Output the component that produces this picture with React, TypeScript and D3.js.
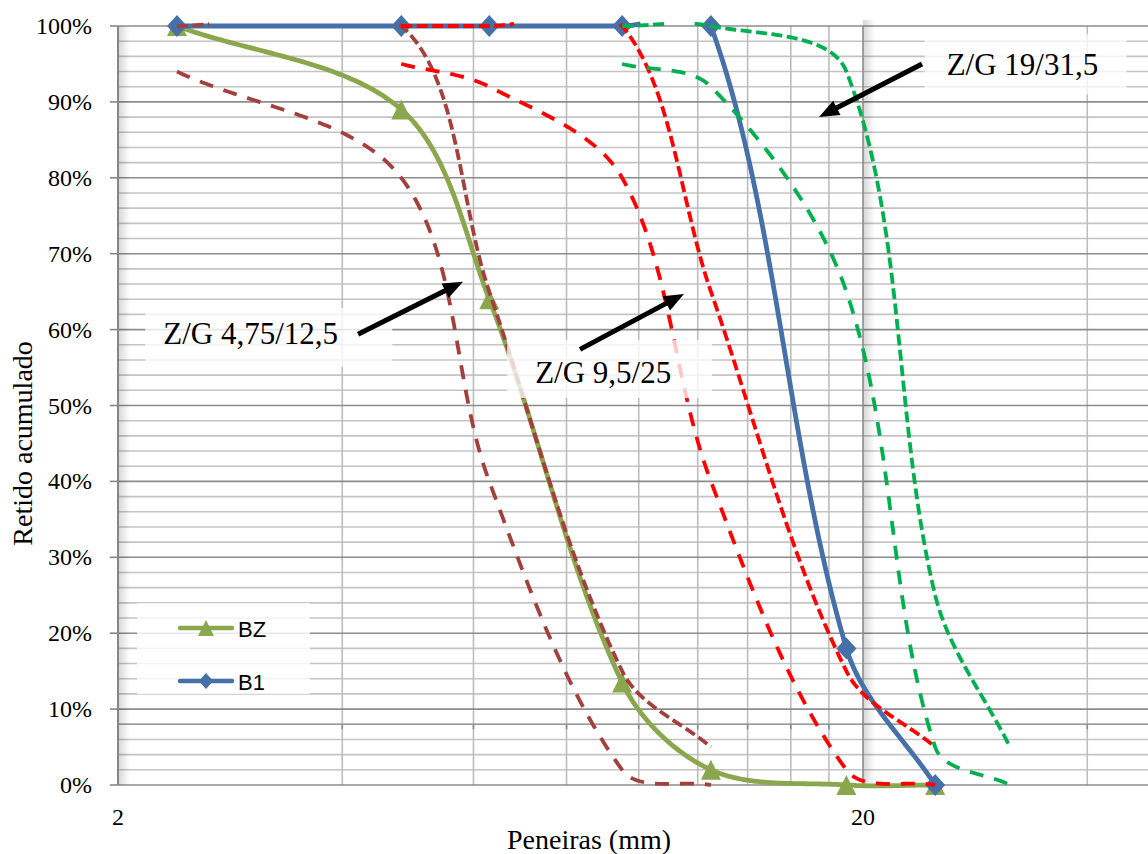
import React from 'react';
import * as d3 from 'd3';

// Sieve openings (mm) and cumulative retained (%)
const sieves = [2.4, 4.8, 6.3, 9.5, 12.5, 19, 25];
const bzRetained = [100, 89, 64, 13.5, 2, 0, 0];
const b1Retained = [100, 100, 100, 100, 100, 18, 0];

// Grading zone limits (NBR 7211)
const zone475Sieves = [2.4, 4.8, 6.3, 9.5, 12.5];
const zone475Lower = [94, 80, 40, 2, 0];
const zone475Upper = [100, 100, 65, 15, 5];
const zone95Sieves = [4.8, 6.3, 9.5, 12.5, 19, 25];
const zone95Lower = [95, 92, 80, 40, 2, 0];
const zone95Upper = [100, 100, 100, 65, 15, 5];
const zone19Sieves = [9.5, 12.5, 19, 25, 31.5];
const zone19Lower = [95, 92, 65, 5, 0];
const zone19Upper = [100, 100, 94, 25, 5];

// Axis ticks
const yMajorTicks = d3.range(0, 101, 10);
const yMinorTicks = d3.range(0, 101, 2);
const xMinorTicks = [4, 6, 8, 10, 12, 14, 16, 18, 40];
const xMajorTicks = [20];
const xLabels = [2, 20];

// Zone annotations: label anchor (mm, %) and arrow tail/tip (mm, %)
const zoneLabels = ['Z/G 4,75/12,5', 'Z/G 9,5/25', 'Z/G 19/31,5'];
const labelAnchors: [number, number][] = [[2.3, 58.1], [7.26, 52.96], [25.9, 93.5]];
const arrowTails: [number, number][] = [[4.2, 59.4], [8.34, 57.4], [24.0, 95.0]];
const arrowTips: [number, number][] = [[5.81, 66.3], [11.5, 64.7], [17.46, 88.0]];

const SERIF = '"Liberation Serif", "Times New Roman", serif';
const SANS = '"Liberation Sans", Arial, sans-serif';

type Pt = [number, number];
const zip = (xs: number[], ys: number[]): Pt[] => xs.map((v, i) => [v, ys[i]]);

const W = 1148;
const H = 854;
const x = d3.scaleLog().domain([2, 20]).range([118, 863]);
const y = d3.scaleLinear().domain([0, 100]).range([785, 26]);
const polyline = d3.line<Pt>();

// Smoothed spline through the points (control arms weighted by the
// neighbouring chord lengths), sampled and cut where it leaves the plot band.
function smoothClipped(data: Pt[], top: number, bottom: number, eps = 2.2): string {
  const P: Pt[] = data.map((d) => [x(d[0]), y(d[1])]);
  const n = P.length;
  const dist = (a: Pt, b: Pt) => Math.hypot(b[0] - a[0], b[1] - a[1]);
  const fwd: Pt[] = [];
  const bwd: Pt[] = [];
  for (let i = 0; i < n; i++) {
    const prev = P[Math.max(i - 1, 0)];
    const next = P[Math.min(i + 1, n - 1)];
    const dp = dist(prev, P[i]);
    const dn = dist(P[i], next);
    const s = dp + dn || 1;
    const tx = next[0] - prev[0];
    const ty = next[1] - prev[1];
    fwd.push([(tx * dn) / s / 3, (ty * dn) / s / 3]);
    bwd.push([(tx * dp) / s / 3, (ty * dp) / s / 3]);
  }
  const samples: Pt[] = [P[0]];
  const N = 80;
  for (let i = 0; i < n - 1; i++) {
    const p0 = P[i];
    const p3 = P[i + 1];
    const p1: Pt = [p0[0] + fwd[i][0], p0[1] + fwd[i][1]];
    const p2: Pt = [p3[0] - bwd[i + 1][0], p3[1] - bwd[i + 1][1]];
    for (let k = 1; k <= N; k++) {
      const t = k / N;
      const u = 1 - t;
      const a = u * u * u, b = 3 * u * u * t, c = 3 * u * t * t, e = t * t * t;
      samples.push([
        a * p0[0] + b * p1[0] + c * p2[0] + e * p3[0],
        a * p0[1] + b * p1[1] + c * p2[1] + e * p3[1],
      ]);
    }
  }
  const runs: Pt[][] = [];
  let cur: Pt[] = [];
  for (const s of samples) {
    if (s[1] >= top - eps && s[1] <= bottom + eps) {
      cur.push(s);
    } else if (cur.length) {
      runs.push(cur);
      cur = [];
    }
  }
  if (cur.length) runs.push(cur);
  return runs.filter((r) => r.length > 1).map((r) => polyline(r) || '').join('');
}

export default function App() {
  const left = x(2);
  const right = x(50);
  const top = y(100);
  const bottom = y(0);

  const BLUE = '#4670a8';
  const OLIVE = '#8aa74e';
  const BROWN = '#a3403d';
  const RED = '#ff0000';
  const GREEN = '#00b050';
  const LONG = '14 11';
  const SHORT = '11 4.5';

  const zones = [
    { pts: zip(zone475Sieves, zone475Lower), color: BROWN, dash: LONG },
    { pts: zip(zone475Sieves, zone475Upper), color: BROWN, dash: SHORT },
    { pts: zip(zone95Sieves, zone95Lower), color: RED, dash: LONG },
    { pts: zip(zone95Sieves, zone95Upper), color: RED, dash: SHORT },
    { pts: zip(zone19Sieves, zone19Lower), color: GREEN, dash: LONG },
    { pts: zip(zone19Sieves, zone19Upper), color: GREEN, dash: SHORT },
  ];

  const tri = 'M0,-10L10,10L-10,10Z';
  const dia = 'M0,-11L10,0L0,11L-10,0Z';

  // label backgrounds: offsets from the text anchor, in px
  const boxes = [
    { dx: -18, dy: -36, w: 247, h: 59 },
    { dx: -28, dy: -43, w: 205, h: 58 },
    { dx: -22, dy: -41, w: 202, h: 60 },
  ];

  const arrow = (tail: Pt, tip: Pt) => {
    const x0 = x(tail[0]), y0 = y(tail[1]);
    const x1 = x(tip[0]), y1 = y(tip[1]);
    const a = Math.atan2(y1 - y0, x1 - x0);
    const len = 20, half = 8;
    const bx = x1 - len * Math.cos(a), by = y1 - len * Math.sin(a);
    const nx = -Math.sin(a), ny = Math.cos(a);
    return {
      line: [x0, y0, bx + 2 * Math.cos(a), by + 2 * Math.sin(a)],
      head: `M${x1},${y1}L${bx + nx * half},${by + ny * half}L${bx - nx * half},${by - ny * half}Z`,
    };
  };

  return (
    <div style={{ position: 'absolute', left: 0, top: 0 }}>
      <svg width={W} height={H} style={{ display: 'block', background: '#fff', overflow: 'hidden' }}>
        <defs>
          <linearGradient id="shade" x1="0" x2="1" y1="0" y2="0">
            <stop offset="0" stopColor="#000" stopOpacity="0.16" />
            <stop offset="1" stopColor="#000" stopOpacity="0" />
          </linearGradient>
        </defs>

        {/* minor horizontal grid */}
        {yMinorTicks.filter((t) => t % 10 !== 0).map((t) => (
          <line key={'hm' + t} x1={left} x2={right} y1={y(t)} y2={y(t)} stroke="#c4c4c4" strokeWidth={1.6} />
        ))}
        {/* minor vertical grid */}
        {xMinorTicks.map((t) => (
          <line key={'vm' + t} x1={x(t)} x2={x(t)} y1={top} y2={bottom} stroke="#bdbdbd" strokeWidth={1.6} />
        ))}
        {/* major horizontal grid */}
        {yMajorTicks.map((t) => (
          <line key={'hM' + t} x1={left} x2={right} y1={y(t)} y2={y(t)} stroke="#8c8c8c" strokeWidth={1.6} />
        ))}
        {/* secondary reference line at 8% */}
        <line x1={left} x2={right} y1={y(8)} y2={y(8)} stroke="#9a9a9a" strokeWidth={1.6} />
        {xMinorTicks.map((t) => (
          <line key={'t8' + t} x1={x(t)} x2={x(t)} y1={y(8)} y2={y(8) + 5} stroke="#8c8c8c" strokeWidth={1.6} />
        ))}
        {/* major vertical grid */}
        {xMajorTicks.map((t) => (
          <g key={'vM' + t}>
            <rect x={x(t)} y={top - 6} width={12} height={bottom - top + 6} fill="url(#shade)" />
            <line x1={x(t)} x2={x(t)} y1={top} y2={bottom} stroke="#8c8c8c" strokeWidth={1.6} />
          </g>
        ))}
        {/* value axis */}
        <rect x={left} y={top} width={12} height={bottom - top} fill="url(#shade)" />
        <line x1={left} x2={left} y1={top} y2={bottom} stroke="#868686" strokeWidth={2} />
        {yMajorTicks.map((t) => (
          <g key={'yt' + t}>
            <line x1={left - 8} x2={left} y1={y(t)} y2={y(t)} stroke="#868686" strokeWidth={1.6} />
            <text x={92} y={y(t) + 8} textAnchor="end" fontFamily={SERIF} fontSize={24} fill="#000">
              {t}%
            </text>
          </g>
        ))}
        {xLabels.map((t) => (
          <text key={'xl' + t} x={x(t)} y={825} textAnchor="middle" fontFamily={SERIF} fontSize={24} fill="#000">
            {t}
          </text>
        ))}
        <text x={589} y={849} textAnchor="middle" fontFamily={SERIF} fontSize={28} fill="#000">
          Peneiras (mm)
        </text>
        <text
          transform={`translate(32, ${y(45)}) rotate(-90)`}
          textAnchor="middle"
          fontFamily={SERIF}
          fontSize={28}
          fill="#000"
        >
          Retido acumulado
        </text>

        {/* measured gradings */}
        <path d={smoothClipped(zip(sieves, bzRetained), top, bottom)} fill="none" stroke={OLIVE} strokeWidth={4.8} strokeLinejoin="round" />
        {sieves.map((s, i) => (
          <path key={'bz' + i} d={tri} transform={`translate(${x(s)},${y(bzRetained[i])})`} fill={OLIVE} />
        ))}
        <path d={smoothClipped(zip(sieves, b1Retained), top, bottom)} fill="none" stroke={BLUE} strokeWidth={4.8} strokeLinejoin="round" />
        {sieves.map((s, i) => (
          <path key={'b1' + i} d={dia} transform={`translate(${x(s)},${y(b1Retained[i])})`} fill={BLUE} />
        ))}

        {/* zone limits */}
        {zones.map((z, i) => (
          <path
            key={'z' + i}
            d={smoothClipped(z.pts, top, bottom)}
            fill="none"
            stroke={z.color}
            strokeWidth={3.8}
            strokeDasharray={z.dash}
          />
        ))}

        {/* zone labels */}
        {zoneLabels.map((label, i) => {
          const ax = x(labelAnchors[i][0]);
          const ay = y(labelAnchors[i][1]);
          const b = boxes[i];
          return (
            <g key={'lab' + i}>
              <rect x={ax + b.dx} y={ay + b.dy} width={b.w} height={b.h} fill="#fff" fillOpacity={0.78} />
              <text x={ax} y={ay} fontFamily={SERIF} fontSize={31} fill="#000">
                {label}
              </text>
            </g>
          );
        })}
        {arrowTails.map((tail, i) => {
          const a = arrow(tail, arrowTips[i]);
          return (
            <g key={'arr' + i}>
              <line x1={a.line[0]} y1={a.line[1]} x2={a.line[2]} y2={a.line[3]} stroke="#000" strokeWidth={5} />
              <path d={a.head} fill="#000" />
            </g>
          );
        })}

        {/* legend */}
        <g>
          <rect x={137} y={603} width={173} height={91} fill="#fff" fillOpacity={0.8} />
          <line x1={180} x2={232} y1={628} y2={628} stroke={OLIVE} strokeWidth={4.5} strokeLinecap="round" />
          <path d={tri} transform="translate(206,628) scale(0.8)" fill={OLIVE} />
          <text x={238} y={637} fontFamily={SANS} fontSize={22} fill="#000">BZ</text>
          <line x1={180} x2={232} y1={681} y2={681} stroke={BLUE} strokeWidth={4.5} strokeLinecap="round" />
          <path d={dia} transform="translate(206,681) scale(0.72)" fill={BLUE} />
          <text x={238} y={690} fontFamily={SANS} fontSize={22} fill="#000">B1</text>
        </g>
      </svg>
    </div>
  );
}
